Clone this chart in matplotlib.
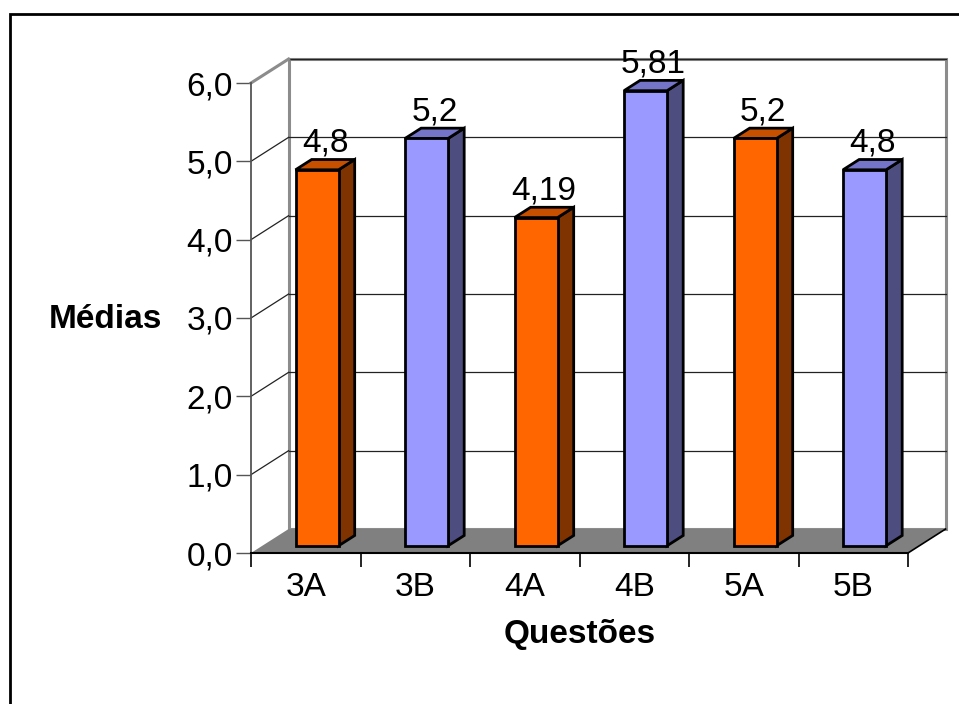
import matplotlib.pyplot as plt
from matplotlib.patches import Polygon, Rectangle

plt.rcParams['font.family'] = ['Liberation Sans', 'DejaVu Sans']

categorias = ['3A', '3B', '4A', '4B', '5A', '5B']
medias = [4.8, 5.2, 4.19, 5.81, 5.2, 4.8]
y_ticks = [0, 1, 2, 3, 4, 5, 6]
y_labels = ['0,0', '1,0', '2,0', '3,0', '4,0', '5,0', '6,0']

laranja = ('#FF6600', '#7F3300', '#C65000')
azul = ('#9999FF', '#4D4D80', '#7474C8')
cores = [laranja, azul, laranja, azul, laranja, azul]

# deslocamento da profundidade (em unidades dos dados)
DX = 0.343
DY = 0.306
d0 = 0.30     # frente da barra
dd = 0.43     # profundidade da barra
w = 0.393     # largura da barra
fs = 24

fig = plt.figure(figsize=(9.59, 7.04), dpi=100)
ax = fig.add_axes([251 / 959, 151 / 704, 657 / 959, 470 / 704])
ax.set_xlim(0, 6)
ax.set_ylim(0, 6)
for s in ax.spines.values():
    s.set_visible(False)
ax.patch.set_visible(False)

# parede do fundo
ax.add_patch(Rectangle((DX, DY), 6, 6, facecolor='white', edgecolor='#8c8c8c',
                       lw=2.2, clip_on=False, zorder=1))
for k in y_ticks[1:]:
    ax.plot([DX, 6 + DX], [k + DY, k + DY], color='#222222', lw=0.9,
            clip_on=False, zorder=2)
    ax.plot([0, DX], [k, k + DY], color='#222222', lw=0.9, clip_on=False, zorder=2)
# parede esquerda
ax.plot([0, DX], [6, 6 + DY], color='#8c8c8c', lw=2.2, clip_on=False, zorder=2)
ax.plot([0, 0], [0, 6], color='#555555', lw=1.3, clip_on=False, zorder=3)

# piso
ax.add_patch(Polygon([(0, 0), (6, 0), (6 + DX, DY), (DX, DY)], closed=True,
                     facecolor='#808080', edgecolor='none', clip_on=False, zorder=3))
ax.plot([6, 6 + DX], [0, DY], color='black', lw=1.2, clip_on=False, zorder=3)
ax.plot([0, 6], [0, 0], color='black', lw=1.5, clip_on=False, zorder=4)

# barras
for i, (v, c) in enumerate(zip(medias, cores)):
    x0 = i + 0.5 - w / 2 + d0 * DX
    yb = d0 * DY
    ox, oy = dd * DX, dd * DY
    front = Rectangle((x0, yb), w, v, facecolor=c[0], edgecolor='black', lw=2,
                      joinstyle='miter', clip_on=False, zorder=5)
    lado = Polygon([(x0 + w, yb), (x0 + w + ox, yb + oy), (x0 + w + ox, yb + v + oy),
                    (x0 + w, yb + v)], closed=True, facecolor=c[1], edgecolor='black',
                   lw=2, joinstyle='miter', clip_on=False, zorder=5)
    topo = Polygon([(x0, yb + v), (x0 + w, yb + v), (x0 + w + ox, yb + v + oy),
                    (x0 + ox, yb + v + oy)], closed=True, facecolor=c[2],
                   edgecolor='black', lw=2, joinstyle='miter', clip_on=False, zorder=5)
    ax.add_patch(lado)
    ax.add_patch(topo)
    ax.add_patch(front)
    ax.text(x0 + w / 2 + ox / 2, yb + v + oy + 0.1, str(v).replace('.', ','),
            ha='center', va='baseline', fontsize=fs, zorder=6)

ax.set_yticks(y_ticks)
ax.set_yticklabels(y_labels, fontsize=fs)
ax.tick_params(axis='y', length=11, width=1, color='#555555', pad=2)
ax.set_xticks(range(7))
ax.set_xticklabels([''] * 7)
ax.tick_params(axis='x', which='major', length=10, width=1.2, color='black')
ax.set_xticks([i + 0.5 for i in range(6)], minor=True)
ax.set_xticklabels(categorias, minor=True, fontsize=fs)
ax.tick_params(axis='x', which='minor', length=0, pad=14)

fig.text(105 / 959, 1 - 320 / 704, 'Médias', ha='center', va='center',
         fontsize=fs, fontweight='bold')
fig.text(580 / 959, 1 - 635 / 704, 'Questões', ha='center', va='center',
         fontsize=fs, fontweight='bold')

# moldura
fig.add_artist(Rectangle((10 / 959, -0.1), 2, 1 - 14 / 704 + 0.1, transform=fig.transFigure,
                         fill=False, edgecolor='black', lw=2))

fig.savefig('out.png', dpi=100)
